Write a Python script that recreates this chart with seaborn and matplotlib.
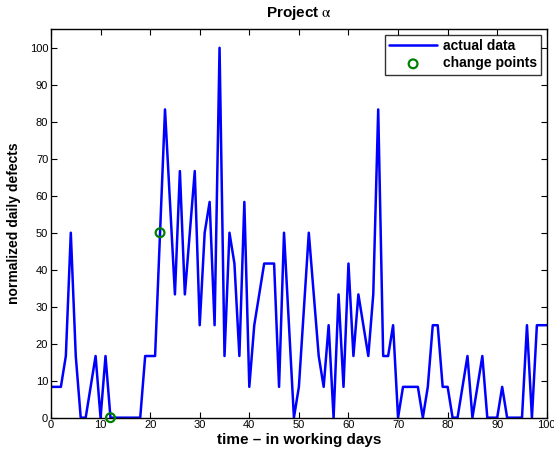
import matplotlib
matplotlib.use("Agg")
import matplotlib.pyplot as plt
import seaborn as sns
import pandas as pd
import numpy as np

days = list(range(0, 101))
defects = [
    8.33, 8.33, 8.33, 16.67, 50, 16.67, 0, 0, 8.33, 16.67,      # 0-9
    0, 16.67, 0, 0, 0, 0, 0, 0, 0, 16.67,                      # 10-19
    16.67, 16.67, 50, 83.33, 58.33, 33.33, 66.67, 33.33, 50, 66.67,  # 20-29
    25, 50, 58.33, 25, 100, 16.67, 50, 41.67, 16.67, 58.33,   # 30-39
    8.33, 25, 33.33, 41.67, 41.67, 41.67, 8.33, 50, 25, 0,    # 40-49
    8.33, 29.17, 50, 33.33, 16.67, 8.33, 25, 0, 33.33, 8.33,  # 50-59
    41.67, 16.67, 33.33, 25, 16.67, 33.33, 83.33, 16.67, 16.67, 25,  # 60-69
    0, 8.33, 8.33, 8.33, 8.33, 0, 8.33, 25, 25, 8.33,         # 70-79
    8.33, 0, 0, 8.33, 16.67, 0, 8.33, 16.67, 0, 0,            # 80-89
    0, 8.33, 0, 0, 0, 0, 25, 0, 25, 25,                       # 90-99
    25,                                                        # 100
]
change_days = [12, 22]
change_vals = [0, 50]

sns.set_theme(style="white")
plt.rcParams['font.family'] = ['Liberation Sans', 'DejaVu Sans']
plt.rcParams['mathtext.fontset'] = 'stix'
plt.rcParams['text.color'] = 'black'
plt.rcParams['axes.labelcolor'] = 'black'

df = pd.DataFrame({"day": days, "defects": defects})
cp = pd.DataFrame({"day": change_days, "defects": change_vals})

fig = plt.figure(figsize=(5.54, 4.54), dpi=100)
ax = fig.add_axes([0.092, 0.080, 0.895, 0.8555])

sns.lineplot(data=df, x="day", y="defects", ax=ax, color="#0000ff", lw=1.8,
             label="actual data")
sns.scatterplot(data=cp, x="day", y="defects", ax=ax, marker="o", s=40,
                facecolor="none", edgecolor="#008000", linewidth=1.6,
                label="change points", zorder=5, clip_on=False)

ax.set_xlim(0, 100)
ax.set_ylim(0, 105)
ax.set_xticks(np.arange(0, 101, 10))
ax.set_yticks(np.arange(0, 101, 10))
ax.tick_params(direction="in", length=4, width=0.8, labelsize=8, colors="black",
               top=True, right=True, bottom=True, left=True, pad=2)
for s in ax.spines.values():
    s.set_color("black")
    s.set_linewidth(1.0)

ax.set_xlabel("time \u2013 in working days", fontsize=11, fontweight="bold",
              labelpad=2, color="black")
ax.set_ylabel("normalized daily defects", fontsize=10, fontweight="bold",
              labelpad=6, color="black")
ax.set_title("Project $\\mathrm{\\alpha}$", fontsize=11, fontweight="bold", pad=9,
             color="black")

leg = ax.legend(loc="upper right", frameon=True, fancybox=False, fontsize=10,
                handlelength=3.5, handletextpad=0.4, borderpad=0.3,
                labelspacing=0.25, borderaxespad=0.4)
leg.get_frame().set_edgecolor("black")
leg.get_frame().set_linewidth(1.0)
for t in leg.get_texts():
    t.set_fontweight("bold")
    t.set_color("black")

fig.savefig("out.png", dpi=100)
